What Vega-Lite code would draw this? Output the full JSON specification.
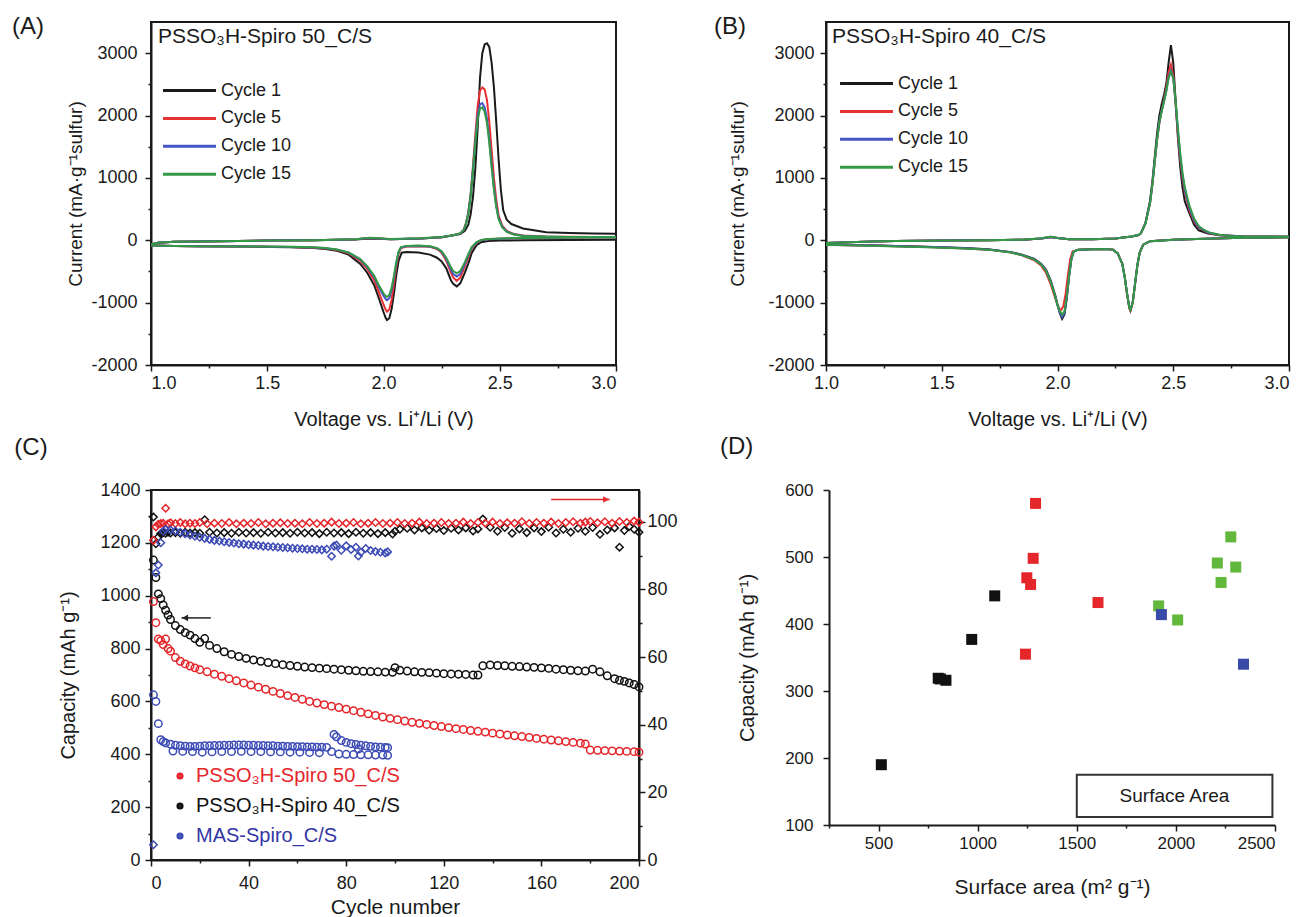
{
"$schema":"https://vega.github.io/schema/vega-lite/v6.json",
"padding":{"left":11,"top":14,"right":0,"bottom":0},
"background":"white",
"config":{
 "font":"Liberation Sans",
 "view":{"stroke":"#1a1a1a","strokeWidth":2},
 "axis":{"grid":false,"labelFontSize":18,"titleFontSize":20,"titleFontWeight":"normal","labelColor":"#1a1a1a","titleColor":"#1a1a1a","domainColor":"#1a1a1a","domainWidth":2,"tickColor":"#1a1a1a","tickWidth":1.5,"labelFont":"Liberation Sans","titleFont":"Liberation Sans","labelOverlap":false},
 "legend":{"labelFont":"Liberation Sans","titleFont":"Liberation Sans","labelColor":"#1a1a1a","titleColor":"#1a1a1a"},
 "title":{"fontSize":24,"fontWeight":"normal","anchor":"start","color":"#1a1a1a","font":"Liberation Sans","frame":"group"}
},
"datasets":{
"cvA":[
{"c":1,"b":"r","v":1,"i":-85},{"c":1,"b":"r","v":1.1,"i":-90},{"c":1,"b":"r","v":1.2,"i":-95},{"c":1,"b":"r","v":1.4,"i":-100},{"c":1,"b":"r","v":1.6,"i":-110},{"c":1,"b":"r","v":1.7,"i":-125},{"c":1,"b":"r","v":1.75,"i":-140},{"c":1,"b":"r","v":1.8,"i":-170},{"c":1,"b":"r","v":1.85,"i":-230},{"c":1,"b":"r","v":1.9,"i":-380},{"c":1,"b":"r","v":1.93,"i":-520},{"c":1,"b":"r","v":1.96,"i":-720},{"c":1,"b":"r","v":1.98,"i":-930},{"c":1,"b":"r","v":2,"i":-1150},{"c":1,"b":"r","v":2.01,"i":-1250},{"c":1,"b":"r","v":2.015,"i":-1280},{"c":1,"b":"r","v":2.025,"i":-1250},{"c":1,"b":"r","v":2.035,"i":-1100},{"c":1,"b":"r","v":2.045,"i":-850},{"c":1,"b":"r","v":2.055,"i":-560},{"c":1,"b":"r","v":2.065,"i":-330},{"c":1,"b":"r","v":2.078,"i":-200},{"c":1,"b":"r","v":2.1,"i":-190},{"c":1,"b":"r","v":2.15,"i":-195},{"c":1,"b":"r","v":2.2,"i":-230},{"c":1,"b":"r","v":2.23,"i":-280},{"c":1,"b":"r","v":2.25,"i":-340},{"c":1,"b":"r","v":2.27,"i":-450},{"c":1,"b":"r","v":2.29,"i":-640},{"c":1,"b":"r","v":2.3,"i":-700},{"c":1,"b":"r","v":2.315,"i":-740},{"c":1,"b":"r","v":2.33,"i":-690},{"c":1,"b":"r","v":2.35,"i":-520},{"c":1,"b":"r","v":2.365,"i":-370},{"c":1,"b":"r","v":2.38,"i":-200},{"c":1,"b":"r","v":2.4,"i":-80},{"c":1,"b":"r","v":2.42,"i":-30},{"c":1,"b":"r","v":2.45,"i":-13},{"c":1,"b":"r","v":2.5,"i":-5},{"c":1,"b":"r","v":2.6,"i":0},{"c":1,"b":"r","v":2.8,"i":5},{"c":1,"b":"r","v":3,"i":10},
{"c":1,"b":"o","v":1,"i":-70},{"c":1,"b":"o","v":1.03,"i":-40},{"c":1,"b":"o","v":1.1,"i":-25},{"c":1,"b":"o","v":1.3,"i":-15},{"c":1,"b":"o","v":1.5,"i":-5},{"c":1,"b":"o","v":1.7,"i":0},{"c":1,"b":"o","v":1.88,"i":13},{"c":1,"b":"o","v":1.94,"i":30},{"c":1,"b":"o","v":1.98,"i":25},{"c":1,"b":"o","v":2.03,"i":15},{"c":1,"b":"o","v":2.16,"i":30},{"c":1,"b":"o","v":2.25,"i":50},{"c":1,"b":"o","v":2.3,"i":80},{"c":1,"b":"o","v":2.33,"i":100},{"c":1,"b":"o","v":2.35,"i":150},{"c":1,"b":"o","v":2.365,"i":250},{"c":1,"b":"o","v":2.375,"i":420},{"c":1,"b":"o","v":2.385,"i":700},{"c":1,"b":"o","v":2.395,"i":1150},{"c":1,"b":"o","v":2.405,"i":1800},{"c":1,"b":"o","v":2.415,"i":2600},{"c":1,"b":"o","v":2.425,"i":3000},{"c":1,"b":"o","v":2.435,"i":3140},{"c":1,"b":"o","v":2.445,"i":3160},{"c":1,"b":"o","v":2.455,"i":3100},{"c":1,"b":"o","v":2.465,"i":2850},{"c":1,"b":"o","v":2.475,"i":2450},{"c":1,"b":"o","v":2.485,"i":1900},{"c":1,"b":"o","v":2.495,"i":1300},{"c":1,"b":"o","v":2.505,"i":800},{"c":1,"b":"o","v":2.515,"i":480},{"c":1,"b":"o","v":2.53,"i":330},{"c":1,"b":"o","v":2.55,"i":260},{"c":1,"b":"o","v":2.6,"i":190},{"c":1,"b":"o","v":2.7,"i":130},{"c":1,"b":"o","v":2.8,"i":115},{"c":1,"b":"o","v":2.9,"i":108},{"c":1,"b":"o","v":3,"i":105},
{"c":5,"b":"r","v":1,"i":-85},{"c":5,"b":"r","v":1.1,"i":-90},{"c":5,"b":"r","v":1.2,"i":-95},{"c":5,"b":"r","v":1.4,"i":-100},{"c":5,"b":"r","v":1.6,"i":-108},{"c":5,"b":"r","v":1.7,"i":-118},{"c":5,"b":"r","v":1.75,"i":-130},{"c":5,"b":"r","v":1.8,"i":-155},{"c":5,"b":"r","v":1.85,"i":-210},{"c":5,"b":"r","v":1.9,"i":-330},{"c":5,"b":"r","v":1.93,"i":-460},{"c":5,"b":"r","v":1.96,"i":-640},{"c":5,"b":"r","v":1.98,"i":-830},{"c":5,"b":"r","v":2,"i":-1030},{"c":5,"b":"r","v":2.01,"i":-1120},{"c":5,"b":"r","v":2.015,"i":-1147},{"c":5,"b":"r","v":2.025,"i":-1110},{"c":5,"b":"r","v":2.035,"i":-950},{"c":5,"b":"r","v":2.045,"i":-700},{"c":5,"b":"r","v":2.055,"i":-420},{"c":5,"b":"r","v":2.065,"i":-210},{"c":5,"b":"r","v":2.075,"i":-125},{"c":5,"b":"r","v":2.1,"i":-100},{"c":5,"b":"r","v":2.15,"i":-95},{"c":5,"b":"r","v":2.2,"i":-105},{"c":5,"b":"r","v":2.23,"i":-140},{"c":5,"b":"r","v":2.25,"i":-200},{"c":5,"b":"r","v":2.27,"i":-330},{"c":5,"b":"r","v":2.29,"i":-520},{"c":5,"b":"r","v":2.3,"i":-600},{"c":5,"b":"r","v":2.315,"i":-650},{"c":5,"b":"r","v":2.33,"i":-600},{"c":5,"b":"r","v":2.35,"i":-420},{"c":5,"b":"r","v":2.365,"i":-270},{"c":5,"b":"r","v":2.38,"i":-130},{"c":5,"b":"r","v":2.4,"i":-40},{"c":5,"b":"r","v":2.42,"i":0},{"c":5,"b":"r","v":2.45,"i":15},{"c":5,"b":"r","v":2.5,"i":25},{"c":5,"b":"r","v":2.6,"i":35},{"c":5,"b":"r","v":2.8,"i":45},{"c":5,"b":"r","v":3,"i":50},
{"c":5,"b":"o","v":1,"i":-70},{"c":5,"b":"o","v":1.03,"i":-40},{"c":5,"b":"o","v":1.1,"i":-25},{"c":5,"b":"o","v":1.3,"i":-15},{"c":5,"b":"o","v":1.5,"i":-5},{"c":5,"b":"o","v":1.7,"i":0},{"c":5,"b":"o","v":1.88,"i":15},{"c":5,"b":"o","v":1.94,"i":35},{"c":5,"b":"o","v":1.98,"i":30},{"c":5,"b":"o","v":2.03,"i":18},{"c":5,"b":"o","v":2.16,"i":30},{"c":5,"b":"o","v":2.25,"i":50},{"c":5,"b":"o","v":2.3,"i":80},{"c":5,"b":"o","v":2.33,"i":110},{"c":5,"b":"o","v":2.345,"i":170},{"c":5,"b":"o","v":2.355,"i":280},{"c":5,"b":"o","v":2.365,"i":450},{"c":5,"b":"o","v":2.375,"i":750},{"c":5,"b":"o","v":2.385,"i":1200},{"c":5,"b":"o","v":2.395,"i":1700},{"c":5,"b":"o","v":2.405,"i":2150},{"c":5,"b":"o","v":2.415,"i":2400},{"c":5,"b":"o","v":2.425,"i":2450},{"c":5,"b":"o","v":2.435,"i":2420},{"c":5,"b":"o","v":2.445,"i":2250},{"c":5,"b":"o","v":2.455,"i":1900},{"c":5,"b":"o","v":2.465,"i":1450},{"c":5,"b":"o","v":2.475,"i":1000},{"c":5,"b":"o","v":2.485,"i":650},{"c":5,"b":"o","v":2.495,"i":400},{"c":5,"b":"o","v":2.51,"i":240},{"c":5,"b":"o","v":2.53,"i":150},{"c":5,"b":"o","v":2.56,"i":100},{"c":5,"b":"o","v":2.6,"i":75},{"c":5,"b":"o","v":2.7,"i":60},{"c":5,"b":"o","v":2.8,"i":55},{"c":5,"b":"o","v":3,"i":50},
{"c":10,"b":"r","v":1,"i":-85},{"c":10,"b":"r","v":1.1,"i":-90},{"c":10,"b":"r","v":1.2,"i":-95},{"c":10,"b":"r","v":1.4,"i":-100},{"c":10,"b":"r","v":1.6,"i":-106},{"c":10,"b":"r","v":1.7,"i":-115},{"c":10,"b":"r","v":1.75,"i":-127},{"c":10,"b":"r","v":1.8,"i":-150},{"c":10,"b":"r","v":1.85,"i":-200},{"c":10,"b":"r","v":1.9,"i":-310},{"c":10,"b":"r","v":1.93,"i":-430},{"c":10,"b":"r","v":1.96,"i":-590},{"c":10,"b":"r","v":1.98,"i":-750},{"c":10,"b":"r","v":2,"i":-890},{"c":10,"b":"r","v":2.01,"i":-945},{"c":10,"b":"r","v":2.015,"i":-960},{"c":10,"b":"r","v":2.025,"i":-930},{"c":10,"b":"r","v":2.035,"i":-800},{"c":10,"b":"r","v":2.045,"i":-600},{"c":10,"b":"r","v":2.055,"i":-370},{"c":10,"b":"r","v":2.065,"i":-190},{"c":10,"b":"r","v":2.075,"i":-115},{"c":10,"b":"r","v":2.1,"i":-95},{"c":10,"b":"r","v":2.15,"i":-90},{"c":10,"b":"r","v":2.2,"i":-100},{"c":10,"b":"r","v":2.23,"i":-130},{"c":10,"b":"r","v":2.25,"i":-185},{"c":10,"b":"r","v":2.27,"i":-300},{"c":10,"b":"r","v":2.29,"i":-470},{"c":10,"b":"r","v":2.3,"i":-540},{"c":10,"b":"r","v":2.315,"i":-580},{"c":10,"b":"r","v":2.33,"i":-540},{"c":10,"b":"r","v":2.35,"i":-380},{"c":10,"b":"r","v":2.365,"i":-240},{"c":10,"b":"r","v":2.38,"i":-115},{"c":10,"b":"r","v":2.4,"i":-35},{"c":10,"b":"r","v":2.42,"i":0},{"c":10,"b":"r","v":2.45,"i":15},{"c":10,"b":"r","v":2.5,"i":25},{"c":10,"b":"r","v":2.6,"i":35},{"c":10,"b":"r","v":2.8,"i":45},{"c":10,"b":"r","v":3,"i":50},
{"c":10,"b":"o","v":1,"i":-70},{"c":10,"b":"o","v":1.03,"i":-40},{"c":10,"b":"o","v":1.1,"i":-25},{"c":10,"b":"o","v":1.3,"i":-15},{"c":10,"b":"o","v":1.5,"i":-5},{"c":10,"b":"o","v":1.7,"i":0},{"c":10,"b":"o","v":1.88,"i":15},{"c":10,"b":"o","v":1.94,"i":35},{"c":10,"b":"o","v":1.98,"i":30},{"c":10,"b":"o","v":2.03,"i":18},{"c":10,"b":"o","v":2.16,"i":30},{"c":10,"b":"o","v":2.25,"i":50},{"c":10,"b":"o","v":2.3,"i":80},{"c":10,"b":"o","v":2.33,"i":110},{"c":10,"b":"o","v":2.345,"i":165},{"c":10,"b":"o","v":2.355,"i":270},{"c":10,"b":"o","v":2.365,"i":440},{"c":10,"b":"o","v":2.375,"i":730},{"c":10,"b":"o","v":2.385,"i":1150},{"c":10,"b":"o","v":2.395,"i":1600},{"c":10,"b":"o","v":2.405,"i":2000},{"c":10,"b":"o","v":2.415,"i":2180},{"c":10,"b":"o","v":2.425,"i":2200},{"c":10,"b":"o","v":2.435,"i":2130},{"c":10,"b":"o","v":2.445,"i":1950},{"c":10,"b":"o","v":2.455,"i":1620},{"c":10,"b":"o","v":2.465,"i":1220},{"c":10,"b":"o","v":2.475,"i":850},{"c":10,"b":"o","v":2.485,"i":560},{"c":10,"b":"o","v":2.495,"i":360},{"c":10,"b":"o","v":2.51,"i":220},{"c":10,"b":"o","v":2.53,"i":140},{"c":10,"b":"o","v":2.56,"i":95},{"c":10,"b":"o","v":2.6,"i":72},{"c":10,"b":"o","v":2.7,"i":58},{"c":10,"b":"o","v":2.8,"i":52},{"c":10,"b":"o","v":3,"i":48},
{"c":15,"b":"r","v":1,"i":-85},{"c":15,"b":"r","v":1.1,"i":-90},{"c":15,"b":"r","v":1.2,"i":-95},{"c":15,"b":"r","v":1.4,"i":-100},{"c":15,"b":"r","v":1.6,"i":-105},{"c":15,"b":"r","v":1.7,"i":-113},{"c":15,"b":"r","v":1.75,"i":-125},{"c":15,"b":"r","v":1.8,"i":-147},{"c":15,"b":"r","v":1.85,"i":-195},{"c":15,"b":"r","v":1.9,"i":-300},{"c":15,"b":"r","v":1.93,"i":-415},{"c":15,"b":"r","v":1.96,"i":-570},{"c":15,"b":"r","v":1.98,"i":-720},{"c":15,"b":"r","v":2,"i":-850},{"c":15,"b":"r","v":2.01,"i":-895},{"c":15,"b":"r","v":2.015,"i":-907},{"c":15,"b":"r","v":2.025,"i":-880},{"c":15,"b":"r","v":2.035,"i":-760},{"c":15,"b":"r","v":2.045,"i":-570},{"c":15,"b":"r","v":2.055,"i":-350},{"c":15,"b":"r","v":2.065,"i":-180},{"c":15,"b":"r","v":2.075,"i":-110},{"c":15,"b":"r","v":2.1,"i":-90},{"c":15,"b":"r","v":2.15,"i":-85},{"c":15,"b":"r","v":2.2,"i":-95},{"c":15,"b":"r","v":2.23,"i":-125},{"c":15,"b":"r","v":2.25,"i":-175},{"c":15,"b":"r","v":2.27,"i":-280},{"c":15,"b":"r","v":2.29,"i":-430},{"c":15,"b":"r","v":2.3,"i":-495},{"c":15,"b":"r","v":2.315,"i":-530},{"c":15,"b":"r","v":2.33,"i":-495},{"c":15,"b":"r","v":2.35,"i":-350},{"c":15,"b":"r","v":2.365,"i":-220},{"c":15,"b":"r","v":2.38,"i":-105},{"c":15,"b":"r","v":2.4,"i":-30},{"c":15,"b":"r","v":2.42,"i":5},{"c":15,"b":"r","v":2.45,"i":20},{"c":15,"b":"r","v":2.5,"i":30},{"c":15,"b":"r","v":2.6,"i":38},{"c":15,"b":"r","v":2.8,"i":45},{"c":15,"b":"r","v":3,"i":50},
{"c":15,"b":"o","v":1,"i":-70},{"c":15,"b":"o","v":1.03,"i":-40},{"c":15,"b":"o","v":1.1,"i":-25},{"c":15,"b":"o","v":1.3,"i":-15},{"c":15,"b":"o","v":1.5,"i":-5},{"c":15,"b":"o","v":1.7,"i":0},{"c":15,"b":"o","v":1.88,"i":18},{"c":15,"b":"o","v":1.94,"i":40},{"c":15,"b":"o","v":1.98,"i":32},{"c":15,"b":"o","v":2.03,"i":20},{"c":15,"b":"o","v":2.16,"i":32},{"c":15,"b":"o","v":2.25,"i":52},{"c":15,"b":"o","v":2.3,"i":82},{"c":15,"b":"o","v":2.33,"i":110},{"c":15,"b":"o","v":2.345,"i":165},{"c":15,"b":"o","v":2.355,"i":265},{"c":15,"b":"o","v":2.365,"i":430},{"c":15,"b":"o","v":2.375,"i":710},{"c":15,"b":"o","v":2.385,"i":1120},{"c":15,"b":"o","v":2.395,"i":1560},{"c":15,"b":"o","v":2.405,"i":1940},{"c":15,"b":"o","v":2.415,"i":2110},{"c":15,"b":"o","v":2.425,"i":2130},{"c":15,"b":"o","v":2.435,"i":2060},{"c":15,"b":"o","v":2.445,"i":1880},{"c":15,"b":"o","v":2.455,"i":1560},{"c":15,"b":"o","v":2.465,"i":1170},{"c":15,"b":"o","v":2.475,"i":810},{"c":15,"b":"o","v":2.485,"i":530},{"c":15,"b":"o","v":2.495,"i":340},{"c":15,"b":"o","v":2.51,"i":210},{"c":15,"b":"o","v":2.53,"i":135},{"c":15,"b":"o","v":2.56,"i":92},{"c":15,"b":"o","v":2.6,"i":70},{"c":15,"b":"o","v":2.7,"i":57},{"c":15,"b":"o","v":2.8,"i":52},{"c":15,"b":"o","v":3,"i":48}
],
"cvB":[
{"c":1,"b":"r","v":1,"i":-70},{"c":1,"b":"r","v":1.1,"i":-75},{"c":1,"b":"r","v":1.2,"i":-80},{"c":1,"b":"r","v":1.3,"i":-90},{"c":1,"b":"r","v":1.4,"i":-100},{"c":1,"b":"r","v":1.5,"i":-110},{"c":1,"b":"r","v":1.6,"i":-125},{"c":1,"b":"r","v":1.7,"i":-145},{"c":1,"b":"r","v":1.8,"i":-190},{"c":1,"b":"r","v":1.85,"i":-235},{"c":1,"b":"r","v":1.9,"i":-300},{"c":1,"b":"r","v":1.93,"i":-380},{"c":1,"b":"r","v":1.95,"i":-470},{"c":1,"b":"r","v":1.97,"i":-640},{"c":1,"b":"r","v":1.99,"i":-880},{"c":1,"b":"r","v":2,"i":-1030},{"c":1,"b":"r","v":2.01,"i":-1170},{"c":1,"b":"r","v":2.02,"i":-1260},{"c":1,"b":"r","v":2.03,"i":-1190},{"c":1,"b":"r","v":2.04,"i":-930},{"c":1,"b":"r","v":2.05,"i":-580},{"c":1,"b":"r","v":2.06,"i":-300},{"c":1,"b":"r","v":2.07,"i":-180},{"c":1,"b":"r","v":2.09,"i":-150},{"c":1,"b":"r","v":2.15,"i":-145},{"c":1,"b":"r","v":2.2,"i":-140},{"c":1,"b":"r","v":2.24,"i":-150},{"c":1,"b":"r","v":2.26,"i":-210},{"c":1,"b":"r","v":2.28,"i":-380},{"c":1,"b":"r","v":2.29,"i":-580},{"c":1,"b":"r","v":2.3,"i":-850},{"c":1,"b":"r","v":2.31,"i":-1080},{"c":1,"b":"r","v":2.315,"i":-1130},{"c":1,"b":"r","v":2.325,"i":-1000},{"c":1,"b":"r","v":2.335,"i":-700},{"c":1,"b":"r","v":2.345,"i":-400},{"c":1,"b":"r","v":2.355,"i":-200},{"c":1,"b":"r","v":2.37,"i":-70},{"c":1,"b":"r","v":2.4,"i":-15},{"c":1,"b":"r","v":2.5,"i":10},{"c":1,"b":"r","v":2.6,"i":20},{"c":1,"b":"r","v":2.8,"i":40},{"c":1,"b":"r","v":3,"i":50},
{"c":1,"b":"o","v":1,"i":-45},{"c":1,"b":"o","v":1.1,"i":-30},{"c":1,"b":"o","v":1.2,"i":-20},{"c":1,"b":"o","v":1.3,"i":-12},{"c":1,"b":"o","v":1.5,"i":-5},{"c":1,"b":"o","v":1.7,"i":0},{"c":1,"b":"o","v":1.85,"i":10},{"c":1,"b":"o","v":1.93,"i":30},{"c":1,"b":"o","v":1.97,"i":55},{"c":1,"b":"o","v":2,"i":35},{"c":1,"b":"o","v":2.05,"i":15},{"c":1,"b":"o","v":2.15,"i":18},{"c":1,"b":"o","v":2.25,"i":30},{"c":1,"b":"o","v":2.32,"i":60},{"c":1,"b":"o","v":2.35,"i":85},{"c":1,"b":"o","v":2.36,"i":110},{"c":1,"b":"o","v":2.38,"i":280},{"c":1,"b":"o","v":2.4,"i":640},{"c":1,"b":"o","v":2.41,"i":950},{"c":1,"b":"o","v":2.42,"i":1330},{"c":1,"b":"o","v":2.43,"i":1710},{"c":1,"b":"o","v":2.44,"i":2000},{"c":1,"b":"o","v":2.45,"i":2180},{"c":1,"b":"o","v":2.46,"i":2330},{"c":1,"b":"o","v":2.47,"i":2510},{"c":1,"b":"o","v":2.48,"i":2850},{"c":1,"b":"o","v":2.49,"i":3130},{"c":1,"b":"o","v":2.5,"i":2850},{"c":1,"b":"o","v":2.51,"i":2250},{"c":1,"b":"o","v":2.52,"i":1650},{"c":1,"b":"o","v":2.53,"i":1180},{"c":1,"b":"o","v":2.54,"i":850},{"c":1,"b":"o","v":2.55,"i":620},{"c":1,"b":"o","v":2.57,"i":430},{"c":1,"b":"o","v":2.59,"i":250},{"c":1,"b":"o","v":2.61,"i":160},{"c":1,"b":"o","v":2.65,"i":110},{"c":1,"b":"o","v":2.7,"i":80},{"c":1,"b":"o","v":2.8,"i":65},{"c":1,"b":"o","v":3,"i":55},
{"c":5,"b":"r","v":1,"i":-72},{"c":5,"b":"r","v":1.1,"i":-78},{"c":5,"b":"r","v":1.2,"i":-85},{"c":5,"b":"r","v":1.3,"i":-95},{"c":5,"b":"r","v":1.4,"i":-105},{"c":5,"b":"r","v":1.5,"i":-115},{"c":5,"b":"r","v":1.6,"i":-130},{"c":5,"b":"r","v":1.7,"i":-150},{"c":5,"b":"r","v":1.8,"i":-195},{"c":5,"b":"r","v":1.85,"i":-245},{"c":5,"b":"r","v":1.9,"i":-320},{"c":5,"b":"r","v":1.93,"i":-410},{"c":5,"b":"r","v":1.95,"i":-520},{"c":5,"b":"r","v":1.97,"i":-700},{"c":5,"b":"r","v":1.99,"i":-930},{"c":5,"b":"r","v":2,"i":-1040},{"c":5,"b":"r","v":2.01,"i":-1110},{"c":5,"b":"r","v":2.015,"i":-1120},{"c":5,"b":"r","v":2.025,"i":-1060},{"c":5,"b":"r","v":2.035,"i":-860},{"c":5,"b":"r","v":2.045,"i":-560},{"c":5,"b":"r","v":2.055,"i":-300},{"c":5,"b":"r","v":2.065,"i":-180},{"c":5,"b":"r","v":2.09,"i":-150},{"c":5,"b":"r","v":2.15,"i":-145},{"c":5,"b":"r","v":2.2,"i":-140},{"c":5,"b":"r","v":2.24,"i":-150},{"c":5,"b":"r","v":2.26,"i":-210},{"c":5,"b":"r","v":2.28,"i":-380},{"c":5,"b":"r","v":2.29,"i":-580},{"c":5,"b":"r","v":2.3,"i":-850},{"c":5,"b":"r","v":2.31,"i":-1080},{"c":5,"b":"r","v":2.315,"i":-1130},{"c":5,"b":"r","v":2.325,"i":-1000},{"c":5,"b":"r","v":2.335,"i":-700},{"c":5,"b":"r","v":2.345,"i":-400},{"c":5,"b":"r","v":2.355,"i":-200},{"c":5,"b":"r","v":2.37,"i":-70},{"c":5,"b":"r","v":2.4,"i":-15},{"c":5,"b":"r","v":2.5,"i":10},{"c":5,"b":"r","v":2.6,"i":20},{"c":5,"b":"r","v":2.8,"i":40},{"c":5,"b":"r","v":3,"i":50},
{"c":5,"b":"o","v":1,"i":-45},{"c":5,"b":"o","v":1.1,"i":-30},{"c":5,"b":"o","v":1.2,"i":-20},{"c":5,"b":"o","v":1.3,"i":-12},{"c":5,"b":"o","v":1.5,"i":-5},{"c":5,"b":"o","v":1.7,"i":0},{"c":5,"b":"o","v":1.85,"i":10},{"c":5,"b":"o","v":1.93,"i":30},{"c":5,"b":"o","v":1.97,"i":50},{"c":5,"b":"o","v":2,"i":35},{"c":5,"b":"o","v":2.05,"i":15},{"c":5,"b":"o","v":2.15,"i":18},{"c":5,"b":"o","v":2.25,"i":30},{"c":5,"b":"o","v":2.32,"i":60},{"c":5,"b":"o","v":2.35,"i":85},{"c":5,"b":"o","v":2.36,"i":110},{"c":5,"b":"o","v":2.38,"i":270},{"c":5,"b":"o","v":2.4,"i":600},{"c":5,"b":"o","v":2.41,"i":900},{"c":5,"b":"o","v":2.42,"i":1250},{"c":5,"b":"o","v":2.43,"i":1600},{"c":5,"b":"o","v":2.44,"i":1880},{"c":5,"b":"o","v":2.45,"i":2080},{"c":5,"b":"o","v":2.46,"i":2250},{"c":5,"b":"o","v":2.47,"i":2450},{"c":5,"b":"o","v":2.48,"i":2700},{"c":5,"b":"o","v":2.49,"i":2820},{"c":5,"b":"o","v":2.5,"i":2650},{"c":5,"b":"o","v":2.51,"i":2200},{"c":5,"b":"o","v":2.52,"i":1700},{"c":5,"b":"o","v":2.53,"i":1300},{"c":5,"b":"o","v":2.54,"i":1000},{"c":5,"b":"o","v":2.55,"i":760},{"c":5,"b":"o","v":2.57,"i":480},{"c":5,"b":"o","v":2.59,"i":300},{"c":5,"b":"o","v":2.61,"i":200},{"c":5,"b":"o","v":2.65,"i":120},{"c":5,"b":"o","v":2.7,"i":80},{"c":5,"b":"o","v":2.8,"i":60},{"c":5,"b":"o","v":3,"i":55},
{"c":10,"b":"r","v":1,"i":-70},{"c":10,"b":"r","v":1.1,"i":-78},{"c":10,"b":"r","v":1.2,"i":-82},{"c":10,"b":"r","v":1.3,"i":-92},{"c":10,"b":"r","v":1.4,"i":-102},{"c":10,"b":"r","v":1.5,"i":-112},{"c":10,"b":"r","v":1.6,"i":-128},{"c":10,"b":"r","v":1.7,"i":-148},{"c":10,"b":"r","v":1.8,"i":-192},{"c":10,"b":"r","v":1.85,"i":-240},{"c":10,"b":"r","v":1.9,"i":-305},{"c":10,"b":"r","v":1.93,"i":-385},{"c":10,"b":"r","v":1.95,"i":-480},{"c":10,"b":"r","v":1.97,"i":-650},{"c":10,"b":"r","v":1.99,"i":-890},{"c":10,"b":"r","v":2,"i":-1040},{"c":10,"b":"r","v":2.01,"i":-1160},{"c":10,"b":"r","v":2.02,"i":-1230},{"c":10,"b":"r","v":2.03,"i":-1170},{"c":10,"b":"r","v":2.04,"i":-920},{"c":10,"b":"r","v":2.05,"i":-580},{"c":10,"b":"r","v":2.06,"i":-300},{"c":10,"b":"r","v":2.07,"i":-180},{"c":10,"b":"r","v":2.09,"i":-150},{"c":10,"b":"r","v":2.15,"i":-145},{"c":10,"b":"r","v":2.2,"i":-140},{"c":10,"b":"r","v":2.24,"i":-150},{"c":10,"b":"r","v":2.26,"i":-210},{"c":10,"b":"r","v":2.28,"i":-380},{"c":10,"b":"r","v":2.29,"i":-580},{"c":10,"b":"r","v":2.3,"i":-840},{"c":10,"b":"r","v":2.31,"i":-1060},{"c":10,"b":"r","v":2.315,"i":-1110},{"c":10,"b":"r","v":2.325,"i":-990},{"c":10,"b":"r","v":2.335,"i":-690},{"c":10,"b":"r","v":2.345,"i":-400},{"c":10,"b":"r","v":2.355,"i":-200},{"c":10,"b":"r","v":2.37,"i":-70},{"c":10,"b":"r","v":2.4,"i":-15},{"c":10,"b":"r","v":2.5,"i":10},{"c":10,"b":"r","v":2.6,"i":20},{"c":10,"b":"r","v":2.8,"i":40},{"c":10,"b":"r","v":3,"i":50},
{"c":10,"b":"o","v":1,"i":-45},{"c":10,"b":"o","v":1.1,"i":-30},{"c":10,"b":"o","v":1.2,"i":-20},{"c":10,"b":"o","v":1.3,"i":-12},{"c":10,"b":"o","v":1.5,"i":-5},{"c":10,"b":"o","v":1.7,"i":0},{"c":10,"b":"o","v":1.85,"i":10},{"c":10,"b":"o","v":1.93,"i":30},{"c":10,"b":"o","v":1.97,"i":50},{"c":10,"b":"o","v":2,"i":35},{"c":10,"b":"o","v":2.05,"i":15},{"c":10,"b":"o","v":2.15,"i":18},{"c":10,"b":"o","v":2.25,"i":30},{"c":10,"b":"o","v":2.32,"i":60},{"c":10,"b":"o","v":2.35,"i":85},{"c":10,"b":"o","v":2.36,"i":110},{"c":10,"b":"o","v":2.38,"i":270},{"c":10,"b":"o","v":2.4,"i":610},{"c":10,"b":"o","v":2.41,"i":910},{"c":10,"b":"o","v":2.42,"i":1270},{"c":10,"b":"o","v":2.43,"i":1620},{"c":10,"b":"o","v":2.44,"i":1900},{"c":10,"b":"o","v":2.45,"i":2080},{"c":10,"b":"o","v":2.46,"i":2230},{"c":10,"b":"o","v":2.47,"i":2400},{"c":10,"b":"o","v":2.48,"i":2620},{"c":10,"b":"o","v":2.49,"i":2720},{"c":10,"b":"o","v":2.5,"i":2600},{"c":10,"b":"o","v":2.51,"i":2220},{"c":10,"b":"o","v":2.52,"i":1760},{"c":10,"b":"o","v":2.53,"i":1350},{"c":10,"b":"o","v":2.54,"i":1040},{"c":10,"b":"o","v":2.55,"i":800},{"c":10,"b":"o","v":2.57,"i":510},{"c":10,"b":"o","v":2.59,"i":320},{"c":10,"b":"o","v":2.61,"i":210},{"c":10,"b":"o","v":2.65,"i":125},{"c":10,"b":"o","v":2.7,"i":85},{"c":10,"b":"o","v":2.8,"i":60},{"c":10,"b":"o","v":3,"i":55},
{"c":15,"b":"r","v":1,"i":-75},{"c":15,"b":"r","v":1.1,"i":-80},{"c":15,"b":"r","v":1.2,"i":-88},{"c":15,"b":"r","v":1.3,"i":-98},{"c":15,"b":"r","v":1.4,"i":-108},{"c":15,"b":"r","v":1.5,"i":-118},{"c":15,"b":"r","v":1.6,"i":-132},{"c":15,"b":"r","v":1.7,"i":-150},{"c":15,"b":"r","v":1.8,"i":-195},{"c":15,"b":"r","v":1.85,"i":-242},{"c":15,"b":"r","v":1.9,"i":-310},{"c":15,"b":"r","v":1.93,"i":-392},{"c":15,"b":"r","v":1.95,"i":-490},{"c":15,"b":"r","v":1.97,"i":-660},{"c":15,"b":"r","v":1.99,"i":-900},{"c":15,"b":"r","v":2,"i":-1040},{"c":15,"b":"r","v":2.01,"i":-1140},{"c":15,"b":"r","v":2.02,"i":-1190},{"c":15,"b":"r","v":2.03,"i":-1140},{"c":15,"b":"r","v":2.04,"i":-900},{"c":15,"b":"r","v":2.05,"i":-570},{"c":15,"b":"r","v":2.06,"i":-300},{"c":15,"b":"r","v":2.07,"i":-180},{"c":15,"b":"r","v":2.09,"i":-150},{"c":15,"b":"r","v":2.15,"i":-145},{"c":15,"b":"r","v":2.2,"i":-140},{"c":15,"b":"r","v":2.24,"i":-150},{"c":15,"b":"r","v":2.26,"i":-210},{"c":15,"b":"r","v":2.28,"i":-380},{"c":15,"b":"r","v":2.29,"i":-580},{"c":15,"b":"r","v":2.3,"i":-845},{"c":15,"b":"r","v":2.31,"i":-1070},{"c":15,"b":"r","v":2.315,"i":-1120},{"c":15,"b":"r","v":2.325,"i":-995},{"c":15,"b":"r","v":2.335,"i":-700},{"c":15,"b":"r","v":2.345,"i":-400},{"c":15,"b":"r","v":2.355,"i":-200},{"c":15,"b":"r","v":2.37,"i":-70},{"c":15,"b":"r","v":2.4,"i":-15},{"c":15,"b":"r","v":2.5,"i":10},{"c":15,"b":"r","v":2.6,"i":20},{"c":15,"b":"r","v":2.8,"i":40},{"c":15,"b":"r","v":3,"i":50},
{"c":15,"b":"o","v":1,"i":-45},{"c":15,"b":"o","v":1.1,"i":-30},{"c":15,"b":"o","v":1.2,"i":-20},{"c":15,"b":"o","v":1.3,"i":-12},{"c":15,"b":"o","v":1.5,"i":-5},{"c":15,"b":"o","v":1.7,"i":0},{"c":15,"b":"o","v":1.85,"i":10},{"c":15,"b":"o","v":1.93,"i":32},{"c":15,"b":"o","v":1.97,"i":58},{"c":15,"b":"o","v":2,"i":38},{"c":15,"b":"o","v":2.05,"i":15},{"c":15,"b":"o","v":2.15,"i":18},{"c":15,"b":"o","v":2.25,"i":30},{"c":15,"b":"o","v":2.32,"i":60},{"c":15,"b":"o","v":2.35,"i":85},{"c":15,"b":"o","v":2.36,"i":110},{"c":15,"b":"o","v":2.38,"i":265},{"c":15,"b":"o","v":2.4,"i":600},{"c":15,"b":"o","v":2.41,"i":900},{"c":15,"b":"o","v":2.42,"i":1260},{"c":15,"b":"o","v":2.43,"i":1610},{"c":15,"b":"o","v":2.44,"i":1890},{"c":15,"b":"o","v":2.45,"i":2070},{"c":15,"b":"o","v":2.46,"i":2220},{"c":15,"b":"o","v":2.47,"i":2390},{"c":15,"b":"o","v":2.48,"i":2600},{"c":15,"b":"o","v":2.49,"i":2700},{"c":15,"b":"o","v":2.5,"i":2600},{"c":15,"b":"o","v":2.51,"i":2250},{"c":15,"b":"o","v":2.52,"i":1800},{"c":15,"b":"o","v":2.53,"i":1400},{"c":15,"b":"o","v":2.54,"i":1080},{"c":15,"b":"o","v":2.55,"i":850},{"c":15,"b":"o","v":2.57,"i":550},{"c":15,"b":"o","v":2.59,"i":350},{"c":15,"b":"o","v":2.61,"i":230},{"c":15,"b":"o","v":2.63,"i":170},{"c":15,"b":"o","v":2.66,"i":120},{"c":15,"b":"o","v":2.7,"i":90},{"c":15,"b":"o","v":2.75,"i":70},{"c":15,"b":"o","v":2.8,"i":60},{"c":15,"b":"o","v":3,"i":55}
],
"cyc":[
{"m":"S40","c":1,"q":1135,"e":101.4},{"m":"S40","c":2,"q":1069,"e":93.5},{"m":"S40","c":3,"q":1007,"e":95.5},{"m":"S40","c":4,"q":989,"e":96.5},{"m":"S40","c":5,"q":965,"e":96.8},{"m":"S40","c":6,"q":945,"e":96.6},{"m":"S40","c":7,"q":927,"e":96.9},{"m":"S40","c":8,"q":910,"e":96.7},{"m":"S40","c":10,"q":887,"e":96.8},{"m":"S40","c":12,"q":872,"e":96.6},{"m":"S40","c":14,"q":860,"e":96.9},{"m":"S40","c":16,"q":851,"e":96.7},{"m":"S40","c":18,"q":838,"e":96.8},{"m":"S40","c":20,"q":824,"e":96.6},{"m":"S40","c":22,"q":838,"e":100.6},{"m":"S40","c":24,"q":812,"e":96.9},{"m":"S40","c":27,"q":800,"e":96.7},{"m":"S40","c":30,"q":788,"e":96.8},{"m":"S40","c":33,"q":778,"e":96.6},{"m":"S40","c":36,"q":770,"e":96.9},{"m":"S40","c":39,"q":763,"e":96.7},{"m":"S40","c":42,"q":757,"e":96.8},{"m":"S40","c":45,"q":752,"e":96.6},{"m":"S40","c":48,"q":747,"e":96.9},{"m":"S40","c":51,"q":743,"e":96.7},{"m":"S40","c":54,"q":739,"e":96.8},{"m":"S40","c":57,"q":736,"e":96.6},{"m":"S40","c":60,"q":733,"e":96.9},{"m":"S40","c":63,"q":730,"e":96.7},{"m":"S40","c":66,"q":728,"e":96.8},{"m":"S40","c":69,"q":726,"e":96.5},{"m":"S40","c":72,"q":724,"e":96.9},{"m":"S40","c":75,"q":722,"e":96.7},{"m":"S40","c":78,"q":720,"e":96.8},{"m":"S40","c":81,"q":718,"e":96.5},{"m":"S40","c":84,"q":716,"e":96.9},{"m":"S40","c":87,"q":714,"e":96.6},{"m":"S40","c":90,"q":713,"e":96.8},{"m":"S40","c":93,"q":712,"e":96.5},{"m":"S40","c":96,"q":711,"e":96.8},{"m":"S40","c":99,"q":710,"e":96.4},{"m":"S40","c":100,"q":728,"e":97.2},{"m":"S40","c":102,"q":718,"e":97.8},{"m":"S40","c":105,"q":715,"e":98.1},{"m":"S40","c":108,"q":712,"e":97.6},{"m":"S40","c":111,"q":710,"e":98.2},{"m":"S40","c":114,"q":709,"e":97.5},{"m":"S40","c":117,"q":707,"e":98},{"m":"S40","c":120,"q":705,"e":97.4},{"m":"S40","c":123,"q":704,"e":98.1},{"m":"S40","c":126,"q":703,"e":97.6},{"m":"S40","c":129,"q":702,"e":98.2},{"m":"S40","c":132,"q":700,"e":97.3},{"m":"S40","c":134,"q":700,"e":97.9},{"m":"S40","c":136,"q":735,"e":100.8},{"m":"S40","c":139,"q":738,"e":98.4},{"m":"S40","c":142,"q":736,"e":97.2},{"m":"S40","c":145,"q":735,"e":98.3},{"m":"S40","c":148,"q":733,"e":96.6},{"m":"S40","c":151,"q":732,"e":97.9},{"m":"S40","c":154,"q":730,"e":96.8},{"m":"S40","c":157,"q":729,"e":98.2},{"m":"S40","c":160,"q":727,"e":97.1},{"m":"S40","c":163,"q":725,"e":98.4},{"m":"S40","c":166,"q":722,"e":96.7},{"m":"S40","c":169,"q":720,"e":97.8},{"m":"S40","c":172,"q":718,"e":96.9},{"m":"S40","c":175,"q":716,"e":98.1},{"m":"S40","c":178,"q":715,"e":97.2},{"m":"S40","c":181,"q":722,"e":98.3},{"m":"S40","c":184,"q":712,"e":96.3},{"m":"S40","c":187,"q":697,"e":97.6},{"m":"S40","c":190,"q":686,"e":98.2},{"m":"S40","c":192,"q":680,"e":92.5},{"m":"S40","c":194,"q":676,"e":97.4},{"m":"S40","c":196,"q":670,"e":98.6},{"m":"S40","c":198,"q":664,"e":97.8},{"m":"S40","c":200,"q":655,"e":96.9},
{"m":"S50","c":1,"q":978,"e":94.5},{"m":"S50","c":2,"q":898,"e":98.5},{"m":"S50","c":3,"q":836,"e":99.3},{"m":"S50","c":4,"q":830,"e":99.5},{"m":"S50","c":5,"q":815,"e":99.6},{"m":"S50","c":6,"q":836,"e":104},{"m":"S50","c":7,"q":800,"e":99.4},{"m":"S50","c":8,"q":790,"e":99.7},{"m":"S50","c":10,"q":766,"e":99.5},{"m":"S50","c":12,"q":752,"e":99.8},{"m":"S50","c":14,"q":742,"e":99.4},{"m":"S50","c":16,"q":734,"e":99.6},{"m":"S50","c":18,"q":727,"e":99.5},{"m":"S50","c":20,"q":720,"e":99.8},{"m":"S50","c":23,"q":712,"e":99.4},{"m":"S50","c":26,"q":703,"e":99.6},{"m":"S50","c":29,"q":695,"e":99.5},{"m":"S50","c":32,"q":686,"e":99.8},{"m":"S50","c":35,"q":678,"e":99.4},{"m":"S50","c":38,"q":670,"e":99.6},{"m":"S50","c":41,"q":662,"e":99.5},{"m":"S50","c":44,"q":654,"e":99.8},{"m":"S50","c":47,"q":646,"e":99.4},{"m":"S50","c":50,"q":638,"e":99.6},{"m":"S50","c":53,"q":630,"e":99.7},{"m":"S50","c":56,"q":622,"e":99.5},{"m":"S50","c":59,"q":615,"e":99.6},{"m":"S50","c":62,"q":608,"e":99.4},{"m":"S50","c":65,"q":600,"e":99.8},{"m":"S50","c":68,"q":594,"e":99.5},{"m":"S50","c":71,"q":588,"e":99.6},{"m":"S50","c":74,"q":582,"e":99.9},{"m":"S50","c":77,"q":577,"e":99.5},{"m":"S50","c":80,"q":571,"e":99.6},{"m":"S50","c":83,"q":565,"e":99.8},{"m":"S50","c":86,"q":559,"e":99.4},{"m":"S50","c":89,"q":553,"e":99.6},{"m":"S50","c":92,"q":547,"e":99.8},{"m":"S50","c":95,"q":541,"e":99.5},{"m":"S50","c":98,"q":536,"e":99.6},{"m":"S50","c":101,"q":531,"e":99.8},{"m":"S50","c":104,"q":526,"e":99.5},{"m":"S50","c":107,"q":521,"e":99.6},{"m":"S50","c":110,"q":517,"e":99.9},{"m":"S50","c":113,"q":513,"e":99.5},{"m":"S50","c":116,"q":509,"e":99.6},{"m":"S50","c":119,"q":505,"e":99.8},{"m":"S50","c":122,"q":501,"e":99.5},{"m":"S50","c":125,"q":497,"e":99.6},{"m":"S50","c":128,"q":494,"e":99.9},{"m":"S50","c":131,"q":490,"e":99.5},{"m":"S50","c":134,"q":487,"e":99.8},{"m":"S50","c":137,"q":484,"e":99.6},{"m":"S50","c":140,"q":480,"e":99.9},{"m":"S50","c":143,"q":477,"e":99.5},{"m":"S50","c":146,"q":473,"e":99.7},{"m":"S50","c":149,"q":470,"e":99.6},{"m":"S50","c":152,"q":467,"e":100},{"m":"S50","c":155,"q":464,"e":99.5},{"m":"S50","c":158,"q":460,"e":99.8},{"m":"S50","c":161,"q":457,"e":99.6},{"m":"S50","c":164,"q":454,"e":99.9},{"m":"S50","c":167,"q":451,"e":99.5},{"m":"S50","c":170,"q":448,"e":99.8},{"m":"S50","c":173,"q":445,"e":100},{"m":"S50","c":176,"q":442,"e":99.6},{"m":"S50","c":178,"q":439,"e":99.9},{"m":"S50","c":180,"q":416,"e":100.1},{"m":"S50","c":183,"q":415,"e":99.7},{"m":"S50","c":186,"q":414,"e":100},{"m":"S50","c":189,"q":413,"e":99.6},{"m":"S50","c":192,"q":412,"e":100.1},{"m":"S50","c":195,"q":411,"e":99.8},{"m":"S50","c":198,"q":410,"e":100.2},{"m":"S50","c":200,"q":408,"e":99.9},
{"m":"MAS","c":1,"q":625,"e":4.5},{"m":"MAS","c":2,"q":600,"e":84.9},{"m":"MAS","c":3,"q":516,"e":87.2},{"m":"MAS","c":4,"q":455,"e":93.8},{"m":"MAS","c":5,"q":448,"e":97.2},{"m":"MAS","c":6,"q":443,"e":97.7},{"m":"MAS","c":8,"q":438,"e":97.6},{"m":"MAS","c":10,"q":434,"e":97.3},{"m":"MAS","c":12,"q":432,"e":96.9},{"m":"MAS","c":14,"q":431,"e":96.5},{"m":"MAS","c":16,"q":430,"e":96.1},{"m":"MAS","c":18,"q":430,"e":95.7},{"m":"MAS","c":20,"q":431,"e":95.4},{"m":"MAS","c":22,"q":432,"e":95.1},{"m":"MAS","c":24,"q":432,"e":94.8},{"m":"MAS","c":26,"q":433,"e":94.5},{"m":"MAS","c":28,"q":433,"e":94.3},{"m":"MAS","c":30,"q":434,"e":94.1},{"m":"MAS","c":32,"q":434,"e":93.9},{"m":"MAS","c":34,"q":435,"e":93.7},{"m":"MAS","c":36,"q":435,"e":93.5},{"m":"MAS","c":38,"q":435,"e":93.4},{"m":"MAS","c":40,"q":434,"e":93.2},{"m":"MAS","c":42,"q":434,"e":93.1},{"m":"MAS","c":44,"q":433,"e":93},{"m":"MAS","c":46,"q":433,"e":92.8},{"m":"MAS","c":48,"q":432,"e":92.7},{"m":"MAS","c":50,"q":432,"e":92.6},{"m":"MAS","c":52,"q":431,"e":92.5},{"m":"MAS","c":54,"q":431,"e":92.4},{"m":"MAS","c":56,"q":430,"e":92.3},{"m":"MAS","c":58,"q":430,"e":92.2},{"m":"MAS","c":60,"q":429,"e":92.1},{"m":"MAS","c":62,"q":429,"e":92},{"m":"MAS","c":64,"q":428,"e":91.9},{"m":"MAS","c":66,"q":428,"e":91.9},{"m":"MAS","c":68,"q":427,"e":91.8},{"m":"MAS","c":70,"q":427,"e":91.7},{"m":"MAS","c":72,"q":426,"e":91.9},{"m":"MAS","c":74,"q":410,"e":89.8},{"m":"MAS","c":75,"q":475,"e":92.8},{"m":"MAS","c":76,"q":466,"e":93.1},{"m":"MAS","c":78,"q":452,"e":91.6},{"m":"MAS","c":80,"q":445,"e":92.9},{"m":"MAS","c":82,"q":440,"e":91.8},{"m":"MAS","c":84,"q":437,"e":92.5},{"m":"MAS","c":85,"q":420,"e":89.9},{"m":"MAS","c":86,"q":434,"e":91},{"m":"MAS","c":88,"q":432,"e":92.1},{"m":"MAS","c":90,"q":430,"e":91.5},{"m":"MAS","c":92,"q":428,"e":91.2},{"m":"MAS","c":94,"q":427,"e":91},{"m":"MAS","c":96,"q":426,"e":90.8},{"m":"MAS","c":97,"q":425,"e":91.1},
{"m":"MAS","c":9,"q":412},{"m":"MAS","c":13,"q":411},{"m":"MAS","c":17,"q":410},{"m":"MAS","c":21,"q":408},{"m":"MAS","c":25,"q":409},{"m":"MAS","c":29,"q":410},{"m":"MAS","c":33,"q":410},{"m":"MAS","c":37,"q":411},{"m":"MAS","c":41,"q":410},{"m":"MAS","c":45,"q":410},{"m":"MAS","c":49,"q":409},{"m":"MAS","c":53,"q":409},{"m":"MAS","c":57,"q":408},{"m":"MAS","c":61,"q":408},{"m":"MAS","c":65,"q":407},{"m":"MAS","c":69,"q":406},{"m":"MAS","c":77,"q":401},{"m":"MAS","c":80,"q":400},{"m":"MAS","c":83,"q":399},{"m":"MAS","c":86,"q":398},{"m":"MAS","c":89,"q":398},{"m":"MAS","c":92,"q":397},{"m":"MAS","c":95,"q":397},{"m":"MAS","c":97,"q":396}
],
"arr":[{"k":"r","x1":164,"x2":188,"h":186.5,"y":1364},{"k":"k","x1":12.5,"x2":24.5,"h":14,"y":916}],
"lblC":[{"t":"(C)","x":-56,"y":1560}],
"sa":[
{"g":"k","x":514,"y":190},{"g":"k","x":801,"y":319},{"g":"k","x":812,"y":318},{"g":"k","x":840,"y":316},{"g":"k","x":970,"y":377},{"g":"k","x":1086,"y":442},
{"g":"r","x":1292,"y":580},{"g":"r","x":1280,"y":498},{"g":"r","x":1248,"y":469},{"g":"r","x":1267,"y":459},{"g":"r","x":1607,"y":432},{"g":"r","x":1241,"y":355},
{"g":"g","x":1913,"y":427},{"g":"g","x":2009,"y":406},{"g":"g","x":2209,"y":491},{"g":"g","x":2228,"y":462},{"g":"g","x":2277,"y":530},{"g":"g","x":2302,"y":485},
{"g":"b","x":1927,"y":414},{"g":"b","x":2341,"y":340}
],
"box":[{"x1":1500,"x2":2487,"y1":112,"y2":175,"xm":1993,"ym":143,"t":"Surface Area"}]
},
"columns":1,
"align":"none",
"spacing":4,
"resolve":{"scale":{"color":"independent","stroke":"independent","fill":"independent","shape":"independent"},"legend":{"color":"independent"}},
"concat":[
{"concat":[
 {"width":465,"height":343,
  "title":{"text":"(A)","dx":-139,"dy":17,"offset":0},
  "data":{"name":"cvA"},
  "mark":{"type":"line","strokeWidth":2,"clip":true},
  "encoding":{
   "x":{"field":"v","type":"quantitative","scale":{"domain":[1,3],"nice":false,"zero":false},
        "axis":{"title":"Voltage vs. Li⁺/Li (V)","values":[1,1.25,1.5,1.75,2,2.25,2.5,2.75,3],"labelExpr":"(datum.value*2)%1==0 ? format(datum.value,'.1f') : ''","tickSize":{"condition":{"test":"(datum.value*2)%1!=0","value":3},"value":6},"labelPadding":3,"titlePadding":17}},
   "y":{"field":"i","type":"quantitative","scale":{"domain":[-2000,3500],"nice":false,"zero":false},
        "axis":{"title":"Current (mA·g⁻¹sulfur)","titleFontSize":19,"values":[-2000,-1500,-1000,-500,0,500,1000,1500,2000,2500,3000],"labelExpr":"datum.value%1000==0 ? ''+datum.value : ''","tickSize":{"condition":{"test":"datum.value%1000!=0","value":3},"value":6},"labelPadding":8,"titlePadding":5}},
   "color":{"field":"c","type":"nominal","scale":{"domain":[1,5,10,15],"range":["#1a1a1a","#e63232","#4655c4","#339944"]},
     "legend":{"orient":"none","legendX":7,"legendY":4,"title":"PSSO₃H-Spiro 50_C/S","titleFontSize":21,"titleFontWeight":"normal","titlePadding":33,"titleLimit":400,"labelFontSize":18,"labelExpr":"'Cycle ' + datum.label","symbolType":"M-2.94,0H2.94","symbolSize":324,"symbolStrokeWidth":3,"symbolOffset":21,"labelOffset":21,"rowPadding":7.9,"padding":0}},
   "detail":{"field":"b","type":"nominal"}
  }},
 {"width":463,"height":343,
  "title":{"text":"(B)","dx":-112,"dy":17,"offset":0},
  "data":{"name":"cvB"},
  "mark":{"type":"line","strokeWidth":2,"clip":true},
  "encoding":{
   "x":{"field":"v","type":"quantitative","scale":{"domain":[1,3],"nice":false,"zero":false},
        "axis":{"title":"Voltage vs. Li⁺/Li (V)","values":[1,1.25,1.5,1.75,2,2.25,2.5,2.75,3],"labelExpr":"(datum.value*2)%1==0 ? format(datum.value,'.1f') : ''","labelAlign":{"condition":{"test":"datum.value==3","value":"right"},"value":"center"},"tickSize":{"condition":{"test":"(datum.value*2)%1!=0","value":3},"value":6},"labelPadding":3,"titlePadding":17}},
   "y":{"field":"i","type":"quantitative","scale":{"domain":[-2000,3500],"nice":false,"zero":false},
        "axis":{"title":"Current (mA·g⁻¹sulfur)","titleFontSize":19,"values":[-2000,-1500,-1000,-500,0,500,1000,1500,2000,2500,3000],"labelExpr":"datum.value%1000==0 ? ''+datum.value : ''","tickSize":{"condition":{"test":"datum.value%1000!=0","value":3},"value":6},"labelPadding":6,"titlePadding":20}},
   "color":{"field":"c","type":"nominal","scale":{"domain":[1,5,10,15],"range":["#1a1a1a","#e63232","#4655c4","#339944"]},
     "legend":{"orient":"none","legendX":6,"legendY":4,"title":"PSSO₃H-Spiro 40_C/S","titleFontSize":21,"titleFontWeight":"normal","titlePadding":26,"titleLimit":400,"labelFontSize":18,"labelExpr":"'Cycle ' + datum.label","symbolType":"M-2.94,0H2.94","symbolSize":324,"symbolStrokeWidth":3,"symbolOffset":24,"labelOffset":21,"rowPadding":7.9,"padding":0}},
   "detail":{"field":"b","type":"nominal"}
  }}
 ],"columns":2,"align":"none","spacing":95,"resolve":{"scale":{"color":"independent"},"legend":{"color":"independent"}}},
{"concat":[
 {"width":488,"height":370,
  "resolve":{"scale":{"y":"independent"}},
  "layer":[
   {"data":{"name":"cyc"},"mark":{"type":"point","shape":"circle","filled":false,"size":55,"strokeWidth":1.5,"opacity":1},
    "encoding":{
     "x":{"field":"c","type":"quantitative","scale":{"domain":[0,200],"nice":false},
          "axis":{"title":"Cycle number","titleFontSize":21,"values":[0,20,40,60,80,100,120,140,160,180,200],"labelExpr":"datum.value%40==0 ? ''+datum.value : ''","tickSize":{"condition":{"test":"datum.value%40!=0","value":3},"value":6},"labelPadding":8,"titlePadding":4}},
     "y":{"field":"q","type":"quantitative","scale":{"domain":[0,1400],"nice":false},
          "axis":{"orient":"left","title":"Capacity (mAh g⁻¹)","values":[0,100,200,300,400,500,600,700,800,900,1000,1100,1200,1300,1400],"labelExpr":"datum.value%200==0 ? ''+datum.value : ''","tickSize":{"condition":{"test":"datum.value%200!=0","value":3},"value":6},"labelPadding":5,"titlePadding":21}},
     "color":{"field":"m","type":"nominal","scale":{"domain":["S50","S40","MAS"],"range":["#e5262b","#111111","#3c4bb5"]},
       "legend":{"orient":"none","legendX":19,"legendY":276,"title":null,"labelFontSize":20,"symbolType":"circle","symbolSize":10,"symbolStrokeWidth":4,"labelOffset":6,"rowPadding":10,"padding":0,"labelLimit":400,
         "labelExpr":"datum.label=='S50' ? 'PSSO₃H-Spiro 50_C/S' : datum.label=='S40' ? 'PSSO₃H-Spiro 40_C/S' : 'MAS-Spiro_C/S'",
         "labelColor":{"expr":"datum.value=='S50' ? '#e5262b' : datum.value=='MAS' ? '#3535a5' : '#111111'"}}}
    }},
   {"data":{"name":"cyc"},"mark":{"type":"point","shape":"diamond","filled":false,"size":55,"strokeWidth":1.5,"opacity":1},
    "encoding":{
     "x":{"field":"c","type":"quantitative","scale":{"domain":[0,200],"nice":false}},
     "y":{"field":"e","type":"quantitative","scale":{"domain":[0,109.4],"nice":false},
          "axis":{"orient":"right","title":null,"values":[0,10,20,30,40,50,60,70,80,90,100],"labelExpr":"datum.value%20==0 ? ''+datum.value : ''","tickSize":{"condition":{"test":"datum.value%20!=0","value":3},"value":6},"labelPadding":2}},
     "color":{"field":"m","type":"nominal","legend":null}
    }},
   {"data":{"name":"arr"},"mark":{"type":"rule","strokeWidth":1.5},
    "encoding":{"x":{"field":"x1","type":"quantitative","scale":{"domain":[0,200],"nice":false}},"x2":{"field":"x2"},
     "y":{"field":"y","type":"quantitative","scale":{"domain":[0,1400],"nice":false},"axis":null},
     "stroke":{"field":"k","type":"nominal","scale":{"domain":["r","k"],"range":["#e5262b","#222222"]},"legend":null}}},
   {"data":{"name":"arr"},"mark":{"type":"point","filled":true,"size":45,"opacity":1},
    "encoding":{"x":{"field":"h","type":"quantitative","scale":{"domain":[0,200],"nice":false}},
     "y":{"field":"y","type":"quantitative","scale":{"domain":[0,1400],"nice":false},"axis":null},
     "fill":{"field":"k","type":"nominal","scale":{"domain":["r","k"],"range":["#e5262b","#222222"]},"legend":null},
     "shape":{"field":"k","type":"nominal","scale":{"domain":["r","k"],"range":["triangle-right","triangle-left"]},"legend":null}}},
   {"data":{"name":"lblC"},"mark":{"type":"text","fontSize":24,"align":"left","baseline":"middle","color":"#1a1a1a","font":"Liberation Sans","clip":false},
    "encoding":{"x":{"field":"x","type":"quantitative","scale":{"domain":[0,200],"nice":false}},
     "y":{"field":"y","type":"quantitative","scale":{"domain":[0,1400],"nice":false},"axis":null},
     "text":{"field":"t"}}}
  ]},
 {"width":446,"height":335,
  "view":{"stroke":null},
  "title":{"text":"(D)","dx":-109,"offset":22},
  "layer":[
   {"data":{"name":"sa"},"mark":{"type":"square","size":121,"opacity":1},
    "encoding":{
     "x":{"field":"x","type":"quantitative","scale":{"domain":[250,2500],"nice":false,"zero":false},
          "axis":{"title":"Surface area (m² g⁻¹)","titleFontSize":21,"labelFontSize":17,"values":[250,500,750,1000,1250,1500,1750,2000,2250,2500],"labelExpr":"datum.value%500==0 ? ''+datum.value : ''","tickSize":{"condition":{"test":"datum.value%500!=0","value":3},"value":6},"labelPadding":4,"titlePadding":25}},
     "y":{"field":"y","type":"quantitative","scale":{"domain":[100,600],"nice":false,"zero":false},
          "axis":{"title":"Capacity (mAh g⁻¹)","labelFontSize":17,"values":[100,150,200,250,300,350,400,450,500,550,600],"labelExpr":"datum.value%100==0 ? ''+datum.value : ''","tickSize":{"condition":{"test":"datum.value%100!=0","value":3},"value":6},"labelPadding":10,"titlePadding":27}},
     "color":{"field":"g","type":"nominal","scale":{"domain":["k","r","g","b"],"range":["#111111","#e5262b","#62b83a","#3a4aa8"]},"legend":null}
    }},
   {"data":{"name":"box"},"mark":{"type":"rect","fill":"white","stroke":"#333333","strokeWidth":2},
    "encoding":{"x":{"field":"x1","type":"quantitative","scale":{"domain":[250,2500],"nice":false,"zero":false}},"x2":{"field":"x2"},
     "y":{"field":"y1","type":"quantitative","scale":{"domain":[100,600],"nice":false,"zero":false}},"y2":{"field":"y2"}}},
   {"data":{"name":"box"},"mark":{"type":"text","fontSize":19,"color":"#1a1a1a","font":"Liberation Sans"},
    "encoding":{"x":{"field":"xm","type":"quantitative","scale":{"domain":[250,2500],"nice":false,"zero":false}},
     "y":{"field":"ym","type":"quantitative","scale":{"domain":[100,600],"nice":false,"zero":false}},
     "text":{"field":"t"}}}
  ]}
 ],"columns":2,"align":"none","spacing":41,"resolve":{"scale":{"color":"independent"},"legend":{"color":"independent"}}}
]
}
